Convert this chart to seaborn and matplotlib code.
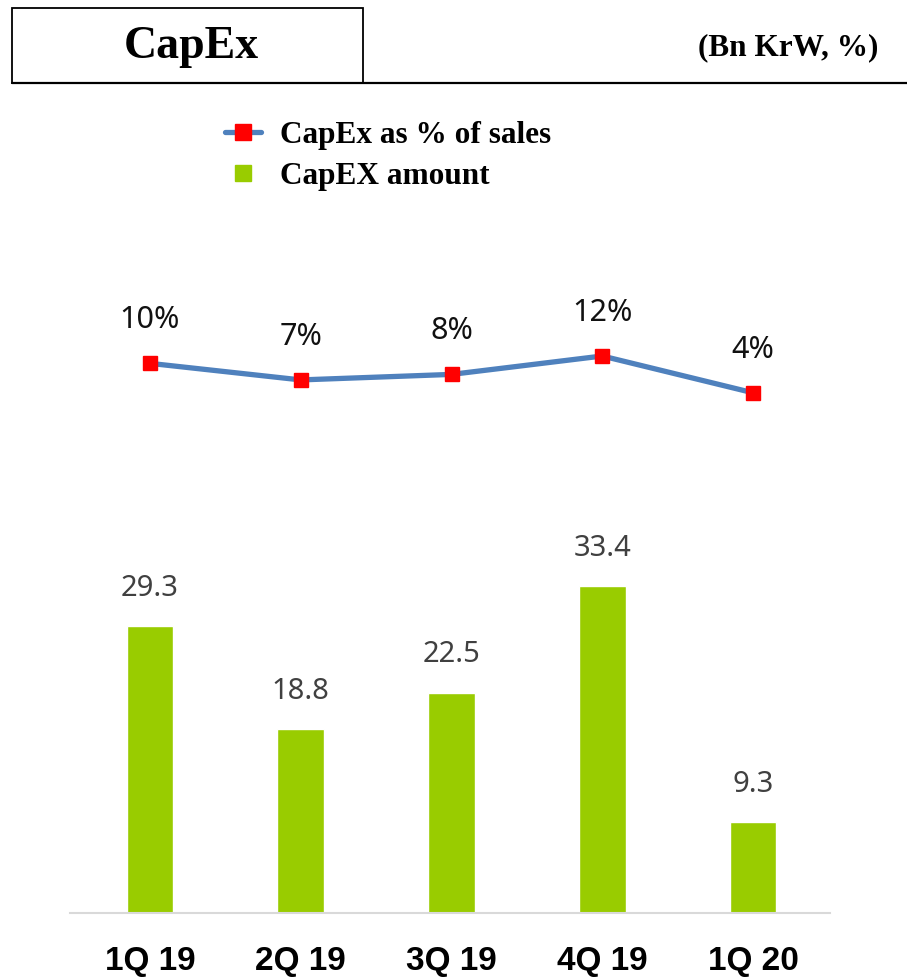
import matplotlib
matplotlib.use('Agg')
import matplotlib.pyplot as plt
import seaborn as sns
import pandas as pd
import numpy as np
from matplotlib.lines import Line2D
from matplotlib.patches import Rectangle

# chart data
quarters = ['1Q 19', '2Q 19', '3Q 19', '4Q 19', '1Q 20']
capex_amount = [29.3, 18.8, 22.5, 33.4, 9.3]
capex_pct = [10.4, 6.8, 8.0, 12.0, 4.0]
pct_labels = ['10%', '7%', '8%', '12%', '4%']

df = pd.DataFrame({'quarter': quarters, 'amount': capex_amount, 'pct': capex_pct})

sns.set_theme(style='white')
plt.rcParams['font.family'] = ['Noto Sans', 'DejaVu Sans']
plt.rcParams['text.color'] = 'black'

fig = plt.figure(figsize=(9.07, 9.8), dpi=100)
W, H = 907, 980

# plot area in pixel terms
left, right, top, bottom = 70, 830, 290, 913
ax = fig.add_axes([left / W, 1 - bottom / H, (right - left) / W, (bottom - top) / H])

sns.barplot(data=df, x='quarter', y='amount', color='#99CC00', width=0.31,
            saturation=1, ax=ax)
ax.set_ylim(0, (bottom - top) / 9.8)
ax.set_xlim(-0.53, 4.51)
for i, v in enumerate(capex_amount):
    ax.annotate(f'{v:.1f}', (i, v), xytext=(0, 27), textcoords='offset points',
                ha='center', va='center', fontsize=21, color='#404040')

# line on a second axis
ax2 = ax.twinx()
xs = np.arange(len(quarters))
ax2.plot(xs, capex_pct, color='#4F81BD', lw=3.8, marker='s', markersize=10,
         markerfacecolor='#FF0000', markeredgecolor='#FF0000', zorder=3)
ax2.set_ylim((411.2 - bottom) / 4.6, (411.2 - top) / 4.6)
for x, v, lab in zip(xs, capex_pct, pct_labels):
    ax2.annotate(lab, (x, v), xytext=(0, 31), textcoords='offset points',
                 ha='center', va='center', fontsize=22, color='#111111')

for a in (ax, ax2):
    a.set_yticks([])
    a.set_ylabel('')
    for s in a.spines.values():
        s.set_visible(False)
ax.spines['bottom'].set_visible(True)
ax.spines['bottom'].set_color('#D9D9D9')
ax.spines['bottom'].set_linewidth(1.5)
ax.set_xlabel('')
ax.set_xticks(xs)
ax.set_xticklabels(quarters, fontsize=24, fontweight='bold', color='black',
                   family='Liberation Sans')
ax.tick_params(axis='x', length=0, pad=24)

# title box and rule
fig.patches.append(Rectangle((12 / W, 1 - 83 / H), (363 - 12) / W, 75 / H,
                             transform=fig.transFigure, fill=False,
                             edgecolor='black', lw=1.3))
fig.add_artist(Line2D([12 / W, 1], [1 - 83 / H, 1 - 83 / H], color='black', lw=1.6))
fig.text(191 / W, 1 - 47 / H, 'CapEx', ha='center', va='center', fontsize=33,
         fontweight='bold', family='Liberation Serif', color='black')
fig.text(878 / W, 1 - 48 / H, '(Bn KrW, %)', ha='right', va='center', fontsize=22.5,
         fontweight='bold', family='Liberation Serif', color='black')

# legend
handles = [
    Line2D([], [], color='#4F81BD', lw=3.8, marker='s', markersize=11,
           markerfacecolor='#FF0000', markeredgecolor='#FF0000'),
    Line2D([], [], color='none', marker='s', markersize=11,
           markerfacecolor='#99CC00', markeredgecolor='#99CC00'),
]
leg = fig.legend(handles, ['CapEx as % of sales', 'CapEX amount'], loc='upper left',
                 bbox_to_anchor=(225 / W, 1 - 121 / H), frameon=False, handlelength=1.15,
                 handletextpad=0.6, labelspacing=0.38, borderpad=0, borderaxespad=0,
                 prop={'family': 'Liberation Serif', 'weight': 'bold', 'size': 22.5})
for t in leg.get_texts():
    t.set_color('black')

fig.savefig('out.png', dpi=100)
